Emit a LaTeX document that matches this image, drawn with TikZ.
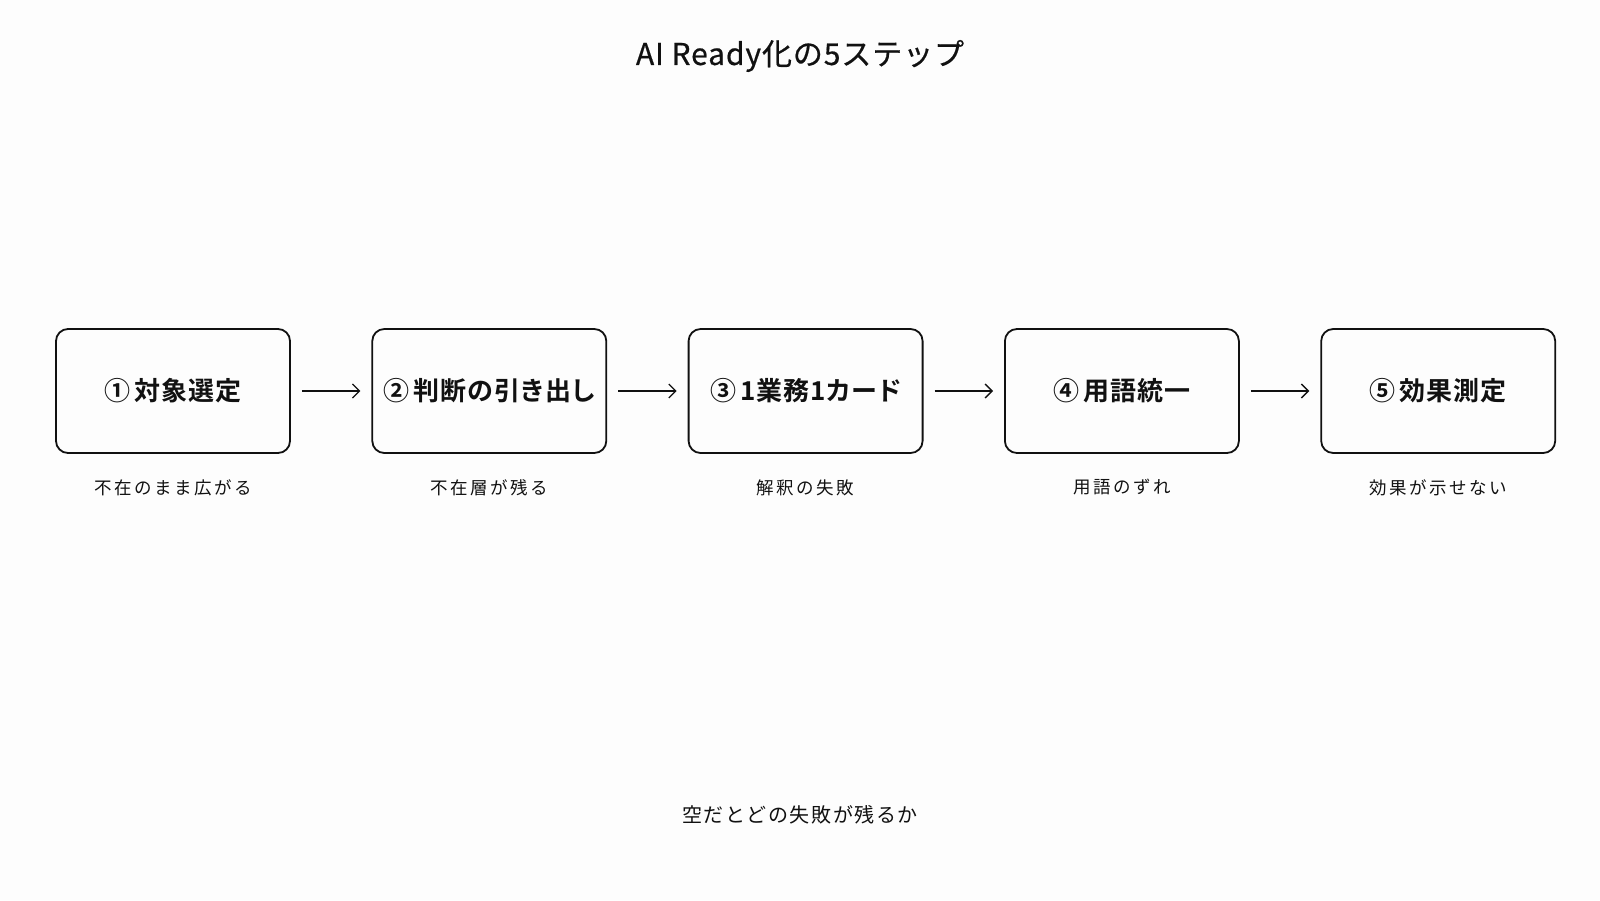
\documentclass[tikz,border=0pt]{standalone}
\usepackage{fontspec}
\usepackage{tikz}
\usetikzlibrary{arrows.meta,positioning}
\setmainfont{Noto Sans CJK JP}
\newfontfamily\jpbold[LetterSpace=4,RawFeature=+palt]{Noto Sans CJK JP Bold}
\newfontfamily\jpnote[LetterSpace=14]{Noto Sans CJK JP}
\newfontfamily\jpfoot[LetterSpace=8]{Noto Sans CJK JP}
\newfontfamily\jptitle[LetterSpace=3,FakeBold=0.6]{Noto Sans CJK JP}
\definecolor{InkBlack}{HTML}{111111}
\definecolor{PaperWhite}{HTML}{FDFDFD}
\newcommand{\stepno}[1]{#1\hspace{4pt}}

\begin{document}
\begin{tikzpicture}[
      x=1pt,y=-1pt,
      stepbox/.style={draw=InkBlack,line width=1.8pt,rounded corners=12pt,minimum width=234pt,minimum height=124pt,inner sep=0pt,align=center,font=\jpbold\fontsize{26}{30}\selectfont,text=InkBlack},
      note/.style={font=\jpnote\fontsize{17.5}{20}\selectfont,text=InkBlack},
      flow/.style={-{Straight Barb[length=7pt,width=14pt]},line width=1.3pt,draw=InkBlack},
      >=Latex
    ]
      \fill[PaperWhite] (0,0) rectangle (1600,900);
      \useasboundingbox (0,0) rectangle (1600,900);
      \node[font=\jptitle\fontsize{30}{34}\selectfont,text=InkBlack] (title) at (800,56) {AI Ready化の5ステップ};
      \node[stepbox] (s1) at (173,391) {\stepno{①}対象選定};
      \node[stepbox,right=80.5pt of s1] (s2) {\stepno{②}判断の引き出し};
      \node[stepbox,right=80.5pt of s2] (s3) {\stepno{③}1業務1カード};
      \node[stepbox,right=80.5pt of s3] (s4) {\stepno{④}用語統一};
      \node[stepbox,right=80.5pt of s4] (s5) {\stepno{⑤}効果測定};
      \foreach \a/\b in {s1/s2,s2/s3,s3/s4,s4/s5}
        \draw[flow] ([xshift=11pt]\a.east) -- ([xshift=-11pt]\b.west);
      \node[note,below=22pt of s1] (n1) {不在のまま広がる};
      \node[note,below=22pt of s2] (n2) {不在層が残る};
      \node[note,below=22pt of s3] (n3) {解釈の失敗};
      \node[note,below=22pt of s4] (n4) {用語のずれ};
      \node[note,below=22pt of s5] (n5) {効果が示せない};
      \node[font=\jpfoot\fontsize{20}{24}\selectfont,text=InkBlack] (foot) at (800,815) {空だとどの失敗が残るか};
    \end{tikzpicture}
\end{document}
